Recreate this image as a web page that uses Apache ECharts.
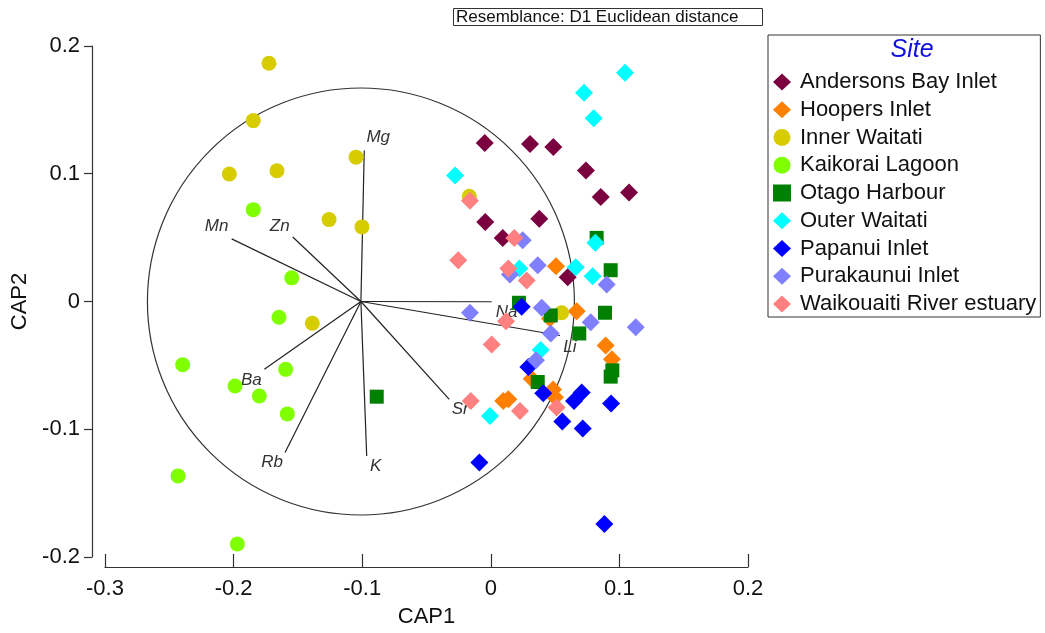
<!DOCTYPE html>
<html>
<head>
<meta charset="utf-8">
<script src="https://cdn.jsdelivr.net/npm/echarts@6/dist/echarts.min.js"></script>
<style>html,body{margin:0;padding:0;background:#fff;}#chart{width:1045px;height:633px;}</style>
</head>
<body>
<div id="chart"></div>
<script>
// ---- Data (CAP1, CAP2) ----
const xTicks = [-0.3, -0.2, -0.1, 0, 0.1, 0.2];
const yTicks = [-0.2, -0.1, 0, 0.1, 0.2];

const andersonsBay = [[-0.0047,0.1240],[0.0305,0.1232],[0.0486,0.1209],[0.0740,0.1026],[0.0855,0.0818],[0.1075,0.0854],[-0.0043,0.0623],[0.0377,0.0648],[0.0093,0.0498],[0.0598,0.0190]];
const hoopers = [[0.0507,0.0276],[0.0668,-0.0076],[0.0893,-0.0344],[0.0942,-0.0453],[0.0318,-0.0604],[0.0484,-0.0688],[0.0499,-0.0750],[0.0097,-0.0779],[0.0136,-0.0766],[0.0460,-0.0133]];
const innerWaitati = [[-0.1725,0.1865],[-0.1847,0.1416],[-0.2033,0.0998],[-0.1663,0.1023],[-0.1048,0.1130],[-0.1258,0.0641],[-0.1002,0.0584],[-0.1388,-0.0170],[-0.0167,0.0823],[0.0551,-0.0088]];
const kaikorai = [[-0.1847,0.0719],[-0.1548,0.0185],[-0.1647,-0.0123],[-0.2396,-0.0495],[-0.1595,-0.0531],[-0.1989,-0.0662],[-0.1800,-0.0740],[-0.1582,-0.0880],[-0.2432,-0.1365],[-0.1971,-0.1898]];
const otago = [[-0.0887,-0.0745],[0.0823,0.0498],[0.0932,0.0245],[0.0219,-0.0010],[0.0466,-0.0109],[0.0888,-0.0088],[0.0688,-0.0250],[0.0945,-0.0539],[0.0932,-0.0588],[0.0365,-0.0630]];
const outerWaitati = [[0.1044,0.1791],[0.0725,0.1635],[0.0800,0.1435],[-0.0278,0.0987],[0.0813,0.0459],[0.0222,0.0258],[0.0660,0.0268],[0.0792,0.0198],[0.0388,-0.0380],[-0.0006,-0.0896]];
const papanui = [[0.0240,-0.0041],[0.0292,-0.0513],[0.0408,-0.0719],[0.0707,-0.0713],[0.0647,-0.0779],[0.0556,-0.0940],[0.0715,-0.0995],[0.0935,-0.0799],[-0.0089,-0.1260],[0.0883,-0.1742]];
const purakaunui = [[0.0248,0.0479],[0.0149,0.0211],[0.0365,0.0284],[0.0901,0.0133],[-0.0162,-0.0088],[0.0396,-0.0049],[0.0777,-0.0162],[0.1127,-0.0201],[0.0466,-0.0250],[0.0351,-0.0459]];
const waikouaiti = [[-0.0162,0.0789],[0.0183,0.0498],[-0.0253,0.0323],[0.0136,0.0258],[0.0279,0.0164],[0.0118,-0.0154],[0.0007,-0.0336],[-0.0156,-0.0779],[0.0227,-0.0857],[0.0512,-0.0830]];

const siteNames = ['Andersons Bay Inlet','Hoopers Inlet','Inner Waitati','Kaikorai Lagoon','Otago Harbour','Outer Waitati','Papanui Inlet','Purakaunui Inlet','Waikouaiti River estuary'];
const siteData = [andersonsBay, hoopers, innerWaitati, kaikorai, otago, outerWaitati, papanui, purakaunui, waikouaiti];

// Vector overlay (correlation circle)
const vectorOrigin = [-0.101, 0.0];
const circleRadius = 0.166;
const vectorNames = ['Mg','Mn','Zn','Ba','Rb','K','Sr','Na','Li'];
const vectorEnds = [[-0.0984,0.1182],[-0.2015,0.0490],[-0.1540,0.0505],[-0.1761,-0.0531],[-0.1600,-0.1182],[-0.0965,-0.1209],[-0.0323,-0.0766],[0.0007,-0.0002],[0.0538,-0.0266]];

// ---- Styles ----
const siteColors = ['#7A0040','#FF7F00','#D6CC00','#80FF00','#007F00','#00FFFF','#0000FF','#8080FF','#FF8080'];
const siteSymbols = ['diamond','diamond','circle','circle','rect','diamond','diamond','diamond','diamond'];
const siteSizes = {diamond: 18, circle: 15, rect: 14};
const labelOffsets = {Mg:[14,-13],Mn:[-15,-13],Zn:[-13,-11],Ba:[-13,11],Rb:[-13,10],K:[9,10],Sr:[11,10],Na:[15,11],Li:[10,12]};

const chart = echarts.init(document.getElementById('chart'));
const FONT = '"Liberation Sans", Arial, sans-serif';

const series = siteNames.map((name, i) => ({
  name: name,
  type: 'scatter',
  data: siteData[i],
  symbol: siteSymbols[i],
  symbolSize: siteSizes[siteSymbols[i]],
  itemStyle: {color: siteColors[i], opacity: 1},
  z: 3 + i,
  emphasis: {disabled: true}
}));

series.unshift({
  type: 'custom',
  name: 'circle',
  data: [[vectorOrigin[0], vectorOrigin[1], circleRadius]],
  clip: false,
  silent: true,
  z: 1,
  renderItem: function (params, api) {
    const c = api.coord([api.value(0), api.value(1)]);
    const r = api.size([api.value(2), 0])[0];
    return {type: 'circle', shape: {cx: c[0], cy: c[1], r: r}, style: {fill: 'none', stroke: '#333', lineWidth: 1.2}};
  }
});

series.unshift({
  type: 'custom',
  name: 'vectors',
  data: vectorEnds.map((e, i) => [e[0], e[1], i]),
  clip: false,
  silent: true,
  z: 2,
  renderItem: function (params, api) {
    const o = api.coord(vectorOrigin);
    const e = api.coord([api.value(0), api.value(1)]);
    const nm = vectorNames[api.value(2)];
    const off = labelOffsets[nm];
    return {
      type: 'group',
      children: [
        {type: 'line', shape: {x1: o[0], y1: o[1], x2: e[0], y2: e[1]}, style: {stroke: '#222', lineWidth: 1.2}},
        {type: 'text', x: e[0] + off[0], y: e[1] + off[1], style: {text: nm, fill: '#333', font: 'italic 17px ' + FONT, textAlign: 'center', textVerticalAlign: 'middle'}}
      ]
    };
  }
});

chart.setOption({
  backgroundColor: '#fff',
  animation: false,
  title: [{
    text: 'Resemblance: D1 Euclidean distance',
    left: 453, top: 8,
    padding: [1, 24, 0, 3],
    borderColor: '#333', borderWidth: 1,
    textStyle: {fontFamily: FONT, fontSize: 17, fontWeight: 'normal', color: '#111', lineHeight: 17}
  }, {
    text: 'Site',
    left: 912, top: 50, textAlign: 'center', textVerticalAlign: 'middle',
    padding: 0,
    textStyle: {fontFamily: FONT, fontSize: 25, fontStyle: 'italic', fontWeight: 'normal', color: '#1010E0'}
  }],
  legend: {
    orient: 'vertical',
    left: 768, top: 35,
    padding: [36, 4, 2, 5],
    borderColor: '#333', borderWidth: 1,
    itemWidth: 18, itemHeight: 17, itemGap: 5.75,
    data: siteNames,
    textStyle: {fontFamily: FONT, fontSize: 22, color: '#111', lineHeight: 18, padding: [0,0,0,4]},
    selectedMode: false
  },
  grid: {left: 105, right: 297, top: 46, bottom: 75, containLabel: false},
  xAxis: {
    type: 'value', min: xTicks[0], max: xTicks[xTicks.length - 1], interval: 0.1,
    offset: 10,
    name: 'CAP1', nameLocation: 'middle', nameGap: 39,
    nameTextStyle: {fontFamily: FONT, fontSize: 22, color: '#111'},
    axisLine: {show: true, onZero: false, lineStyle: {color: '#333', width: 1.2}},
    axisTick: {show: true, inside: true, length: 13, lineStyle: {color: '#333', width: 1.2}},
    axisLabel: {fontFamily: FONT, fontSize: 22, color: '#111', margin: 11,
      formatter: v => { const t = xTicks.find(k => Math.abs(k - v) < 1e-9); return t === undefined ? '' : String(t); }},
    splitLine: {show: false}
  },
  yAxis: {
    type: 'value', min: yTicks[0], max: yTicks[yTicks.length - 1], interval: 0.1,
    offset: 13,
    name: 'CAP2', nameLocation: 'middle', nameGap: 56,
    nameTextStyle: {fontFamily: FONT, fontSize: 22, color: '#111'},
    axisLine: {show: true, onZero: false, lineStyle: {color: '#333', width: 1.2}},
    axisTick: {show: true, inside: false, length: 8, lineStyle: {color: '#333', width: 1.2}},
    axisLabel: {fontFamily: FONT, fontSize: 22, color: '#111', margin: 12,
      formatter: v => { const t = yTicks.find(k => Math.abs(k - v) < 1e-9); return t === undefined ? '' : String(t); }},
    splitLine: {show: false}
  },
  series: series
});
</script>
</body>
</html>
